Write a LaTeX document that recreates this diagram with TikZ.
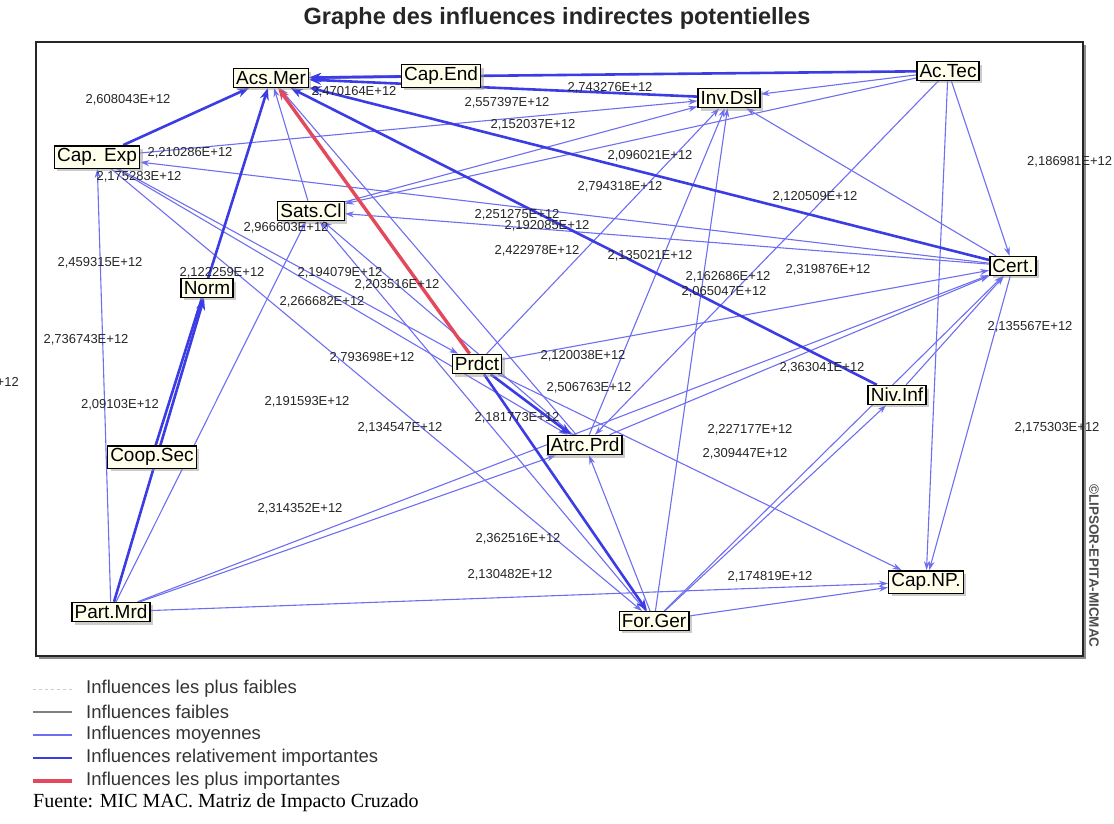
\documentclass[tikz,border=0pt]{standalone}
\usepackage{fontspec}
\setmainfont{Liberation Sans}
\newfontfamily\fuentefont{Liberation Serif}
\usetikzlibrary{arrows.meta,shadows,backgrounds}

\definecolor{colmoy}{RGB}{110,110,240}
\definecolor{colfort}{RGB}{60,60,228}
\definecolor{colrouge}{RGB}{228,72,92}
\definecolor{boxfill}{RGB}{255,255,236}

\tikzset{
  var/.style={draw=black, line width=1.4pt, fill=boxfill, inner sep=2.6pt,
    font=\fontsize{19}{21}\selectfont,
    drop shadow={shadow xshift=3pt, shadow yshift=-3pt, fill=black!40}},
  val/.style={font=\fontsize{13}{15}\selectfont, text=black!85, inner sep=0pt},
  moyen/.style={draw=colmoy, line width=1.1pt, -{Stealth[length=9pt,width=6pt]}},
  fort/.style={draw=colfort, line width=2.6pt, -{Stealth[length=12pt,width=9pt]}},
  tresfort/.style={draw=colrouge, line width=3.4pt, -{Stealth[length=12pt,width=9pt]}},
  leg/.style={anchor=west, font=\fontsize{18.5}{20}\selectfont, text=black!80, inner sep=0pt}
}

\begin{document}
\begin{tikzpicture}[x=1pt,y=-1pt]
\useasboundingbox (0,0) rectangle (1114,823);

% title and frame
\node[font=\fontsize{23.5}{26}\selectfont\bfseries, text=black!85] (titre) at (557,18) {Graphe des influences indirectes potentielles};
\draw[black!45, line width=2pt] (39,658) -- (1085,658) -- (1085,45);
\draw[black!85, line width=1.3pt] (36,42) rectangle (1083,656);
\node[rotate=-90, font=\fontsize{13.5}{15}\selectfont\bfseries, text=black!70] (copy) at (1094,566) {©LIPSOR-EPITA-MICMAC};

% variables
\node[var] (acsmer)  at (271,78)  {Acs.Mer};
\node[var] (capend)  at (441,76)  {Cap.End};
\node[var] (actec)   at (948,71)  {Ac.Tec};
\node[var] (invdsl)  at (729,98)  {Inv.Dsl};
\node[var] (capexp)  at (97,157)  {Cap. Exp};
\node[var] (satscl)  at (311,211) {Sats.Cl};
\node[var] (cert)    at (1013,266) {Cert.};
\node[var] (norm)    at (207,288) {Norm};
\node[var] (prdct)   at (477,364) {Prdct};
\node[var] (nivinf)  at (897,395) {Niv.Inf};
\node[var] (atrcprd) at (585,445) {Atrc.Prd};
\node[var] (coopsec) at (152,457) {Coop.Sec};
\node[var] (capnp)   at (926,582) {Cap.NP.};
\node[var] (partmrd) at (111,612) {Part.Mrd};
\node[var] (forger)  at (654,621) {For.Ger};

\begin{scope}[on background layer]
  % influences moyennes
  \draw[moyen] (actec) -- (invdsl);
  \draw[moyen] (actec) -- (satscl);
  \draw[moyen] (actec) -- (cert);
  \draw[moyen] (actec) -- (capnp);
  \draw[moyen] (actec) -- (atrcprd);
  \draw[moyen] (cert) -- (invdsl);
  \draw[moyen] (cert) -- (capnp);
  \draw[moyen] (cert) -- (satscl);
  \draw[moyen] (cert) -- (capexp);
  \draw[moyen] (capexp) -- (invdsl);
  \draw[moyen] (satscl) -- (invdsl);
  \draw[moyen] (satscl) -- (acsmer);
  \draw[moyen] (prdct) -- (invdsl);
  \draw[moyen] (prdct) -- (cert);
  \draw[moyen] (prdct) -- (capnp);
  \draw[moyen] (capexp) -- (prdct);
  \draw[moyen] (capexp) -- (atrcprd);
  \draw[moyen] (capexp) -- (forger);
  \draw[moyen] (atrcprd) -- (invdsl);
  \draw[moyen] (atrcprd) -- (cert);
  \draw[moyen] (atrcprd) -- (acsmer);
  \draw[moyen] (atrcprd) -- (satscl);
  \draw[moyen] (forger) -- (invdsl);
  \draw[moyen] (forger) -- (cert);
  \draw[moyen] (forger) -- (nivinf);
  \draw[moyen] (forger) -- (capnp);
  \draw[moyen] (forger) -- (atrcprd);
  \draw[moyen] (forger) -- (satscl);
  \draw[moyen] (nivinf) -- (cert);
  \draw[moyen] (partmrd) -- (capexp);
  \draw[moyen] (partmrd) -- (satscl);
  \draw[moyen] (partmrd) -- (atrcprd);
  \draw[moyen] (partmrd) -- (cert);
  \draw[moyen] (partmrd) -- (capnp);
  % influences relativement importantes
  \draw[fort] (capend) -- (acsmer);
  \draw[fort] (actec) -- (acsmer);
  \draw[fort] (invdsl) -- (acsmer);
  \draw[fort] (capexp) -- (acsmer);
  \draw[fort] (coopsec) -- (acsmer);
  \draw[fort] (partmrd) -- (norm);
  \draw[fort] (prdct) -- (atrcprd);
  \draw[fort] (prdct) -- (forger);
  \draw[fort] (cert) -- (acsmer);
  \draw[fort] (nivinf) -- (acsmer);
  % influence la plus importante
  \draw[tresfort] (prdct) -- (acsmer);
\end{scope}

% valeurs
\node[val] (v1)  at (128,100) {2,608043E+12};
\node[val] (v2)  at (354,92)  {2,470164E+12};
\node[val] (v3)  at (610,88)  {2,743276E+12};
\node[val] (v4)  at (507,103) {2,557397E+12};
\node[val] (v5)  at (533,125) {2,152037E+12};
\node[val] (v6)  at (190,153) {2,210286E+12};
\node[val] (v7)  at (139,177) {2,175283E+12};
\node[val] (v8)  at (650,156) {2,096021E+12};
\node[val] (v9)  at (620,187) {2,794318E+12};
\node[val] (v10) at (815,197) {2,120509E+12};
\node[val, anchor=west] (v11) at (1027,162) {2,186981E+12};
\node[val] (v12) at (517,215) {2,251275E+12};
\node[val] (v13) at (547,226) {2,192085E+12};
\node[val] (v14) at (286,228) {2,966603E+12};
\node[val] (v15) at (537,251) {2,422978E+12};
\node[val] (v16) at (650,256) {2,135021E+12};
\node[val] (v17) at (100,263) {2,459315E+12};
\node[val] (v18) at (222,273) {2,122259E+12};
\node[val] (v19) at (340,273) {2,194079E+12};
\node[val] (v20) at (397,285) {2,203516E+12};
\node[val] (v21) at (322,302) {2,266682E+12};
\node[val] (v22) at (728,277) {2,162686E+12};
\node[val] (v23) at (828,270) {2,319876E+12};
\node[val] (v24) at (724,292) {2,065047E+12};
\node[val] (v25) at (86,340)  {2,736743E+12};
\node[val] (v26) at (1030,327) {2,135567E+12};
\node[val] (v27) at (372,358) {2,793698E+12};
\node[val] (v28) at (583,356) {2,120038E+12};
\node[val] (v29) at (822,368) {2,363041E+12};
\node[val, anchor=east] (v30) at (19,383) {2,174303E+12};
\node[val] (v31) at (589,388) {2,506763E+12};
\node[val] (v32) at (120,405) {2,09103E+12};
\node[val] (v33) at (307,402) {2,191593E+12};
\node[val] (v34) at (517,418) {2,181773E+12};
\node[val] (v35) at (400,428) {2,134547E+12};
\node[val] (v36) at (750,430) {2,227177E+12};
\node[val] (v37) at (1057,428) {2,175303E+12};
\node[val] (v38) at (745,454) {2,309447E+12};
\node[val] (v39) at (300,509) {2,314352E+12};
\node[val] (v40) at (518,539) {2,362516E+12};
\node[val] (v41) at (510,575) {2,130482E+12};
\node[val] (v42) at (770,577) {2,174819E+12};

% legende
\draw[dashed, black!20, line width=1pt] (33,689) -- (72,689);
\draw[black!50, line width=1.3pt] (33,712) -- (72,712);
\draw[colmoy, line width=1.1pt] (33,735) -- (72,735);
\draw[colfort, line width=2.6pt] (33,758) -- (72,758);
\draw[colrouge, line width=3.4pt] (33,781) -- (72,781);
\node[leg] (l1) at (86,689) {Influences les plus faibles};
\node[leg] (l2) at (86,712) {Influences faibles};
\node[leg] (l3) at (86,735) {Influences moyennes};
\node[leg] (l4) at (86,758) {Influences relativement importantes};
\node[leg] (l5) at (86,781) {Influences les plus importantes};
\node[anchor=west, inner sep=0pt, font=\fontsize{20}{22}\selectfont\fuentefont] (fuente) at (33,803) {Fuente: MIC MAC. Matriz de Impacto Cruzado};
\end{tikzpicture}
\end{document}
